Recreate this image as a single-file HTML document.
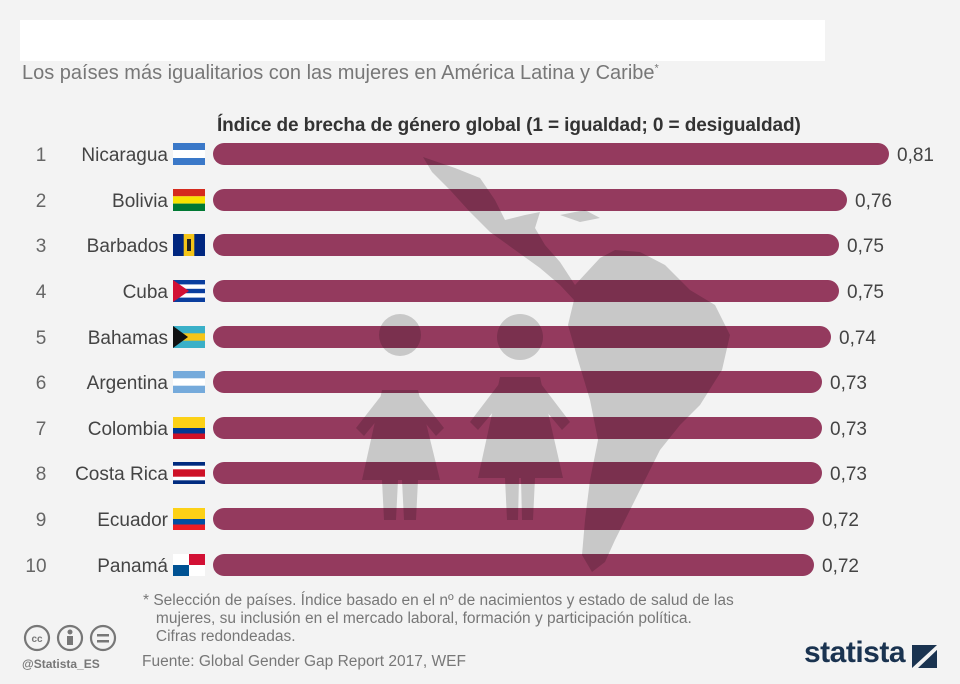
<!DOCTYPE html>
<html><head><meta charset="utf-8"><style>
body{margin:0;width:960px;height:684px;background:#f3f3f3;font-family:"Liberation Sans",sans-serif;position:relative;overflow:hidden}
.abs{position:absolute}
</style></head><body>
<div class="abs" style="left:20px;top:20px;width:805px;height:41px;background:#fff"></div>
<div class="abs" style="left:22px;top:62px;font-size:20px;color:#777;white-space:nowrap">Los países más igualitarios con las mujeres en América Latina y Caribe<sup style="font-size:11px">*</sup></div>
<div class="abs" style="left:217px;top:115px;font-size:19px;font-weight:bold;color:#333;white-space:nowrap;letter-spacing:-0.1px">Índice de brecha de género global (1 = igualdad; 0 = desigualdad)</div>
<svg class="abs" style="left:0;top:0" width="960" height="684">
<g id="bars" fill="#943a5e">
<rect x="213" y="143" width="676" height="22" rx="11"/>
<rect x="213" y="189" width="634" height="22" rx="11"/>
<rect x="213" y="234" width="626" height="22" rx="11"/>
<rect x="213" y="280" width="626" height="22" rx="11"/>
<rect x="213" y="326" width="618" height="22" rx="11"/>
<rect x="213" y="371" width="609" height="22" rx="11"/>
<rect x="213" y="417" width="609" height="22" rx="11"/>
<rect x="213" y="462" width="609" height="22" rx="11"/>
<rect x="213" y="508" width="601" height="22" rx="11"/>
<rect x="213" y="554" width="601" height="22" rx="11"/>
</g>
<g fill="#d2d2d2" style="mix-blend-mode:multiply">
<path d="M423,157 L455,168 L480,178 L495,200 L505,220 L525,215 L540,212 L535,228 L545,245 L560,262 L575,285 L600,258 L615,250 L640,252 L665,265 L690,290 L715,305 L730,335 L722,370 L700,405 L680,425 L660,450 L645,480 L630,510 L615,540 L605,562 L592,572 L582,555 L585,520 L590,480 L598,440 L590,400 L578,360 L568,325 L574,300 L560,285 L540,268 L515,250 L490,232 L470,212 L450,190 L432,172 Z"/>
<path d="M560,215 L585,210 L600,218 L580,222 Z"/>
<circle cx="400" cy="335" r="21"/>
<path d="M382,390 L418,390 L440,480 L418,480 L416,520 L404,520 L402,480 L398,480 L396,520 L384,520 L382,480 L362,480 Z"/>
<path d="M384,392 L356,428 L364,436 L392,402 Z M416,392 L444,428 L436,436 L408,402 Z"/>
<circle cx="520" cy="337" r="23"/>
<path d="M500,377 L540,377 L563,478 L535,478 L533,520 L522,520 L521,478 L519,478 L518,520 L507,520 L505,478 L478,478 Z"/>
<path d="M502,380 L470,422 L478,430 L510,392 Z M538,380 L570,422 L562,430 L530,392 Z"/>
</g>
<!-- flags -->
<g>
<rect x="173" y="143" width="32" height="22" fill="#fff"/><rect x="173" y="143" width="32" height="7" fill="#3a78c8"/><rect x="173" y="158" width="32" height="7" fill="#3a78c8"/>
<rect x="173" y="189" width="32" height="7.3" fill="#d52b1e"/><rect x="173" y="196.3" width="32" height="7.3" fill="#f9e300"/><rect x="173" y="203.6" width="32" height="7.4" fill="#007934"/>
<rect x="173" y="234" width="32" height="22" fill="#f5c518"/><rect x="173" y="234" width="10.7" height="22" fill="#00267f"/><rect x="194.3" y="234" width="10.7" height="22" fill="#00267f"/><rect x="187" y="239" width="4" height="12" fill="#222"/>
<rect x="173" y="280" width="32" height="22" fill="#fff"/><rect x="173" y="280" width="32" height="4.4" fill="#0a3e9e"/><rect x="173" y="288.8" width="32" height="4.4" fill="#0a3e9e"/><rect x="173" y="297.6" width="32" height="4.4" fill="#0a3e9e"/><path d="M173,280 L189,291 L173,302Z" fill="#d21034"/>
<rect x="173" y="326" width="32" height="22" fill="#f5c518"/><rect x="173" y="326" width="32" height="7.3" fill="#3ab0c8"/><rect x="173" y="340.7" width="32" height="7.3" fill="#3ab0c8"/><path d="M173,326 L188,337 L173,348Z" fill="#111"/>
<rect x="173" y="371" width="32" height="22" fill="#fff"/><rect x="173" y="371" width="32" height="7.3" fill="#75aadb"/><rect x="173" y="385.7" width="32" height="7.3" fill="#75aadb"/>
<rect x="173" y="417" width="32" height="11" fill="#fcd116"/><rect x="173" y="428" width="32" height="5.5" fill="#003893"/><rect x="173" y="433.5" width="32" height="5.5" fill="#ce1126"/>
<rect x="173" y="462" width="32" height="22" fill="#fff"/><rect x="173" y="462" width="32" height="3.7" fill="#002b7f"/><rect x="173" y="480.3" width="32" height="3.7" fill="#002b7f"/><rect x="173" y="469.3" width="32" height="7.4" fill="#ce1126"/>
<rect x="173" y="508" width="32" height="11" fill="#fcd116"/><rect x="173" y="519" width="32" height="5.5" fill="#034ea2"/><rect x="173" y="524.5" width="32" height="5.5" fill="#ed1c24"/>
<rect x="173" y="554" width="32" height="22" fill="#fff"/><rect x="189" y="554" width="16" height="11" fill="#d21034"/><rect x="173" y="565" width="16" height="11" fill="#005293"/>
</g>
<g font-family="Liberation Sans, sans-serif" font-size="19" fill="#444">
<g text-anchor="middle" fill="#666"><text x="41" y="161">1</text><text x="41" y="207">2</text><text x="41" y="252">3</text><text x="41" y="298">4</text><text x="41" y="344">5</text><text x="41" y="389">6</text><text x="41" y="435">7</text><text x="41" y="480">8</text><text x="41" y="526">9</text><text x="36" y="572">10</text></g>
<g text-anchor="end"><text x="168" y="161">Nicaragua</text><text x="168" y="207">Bolivia</text><text x="168" y="252">Barbados</text><text x="168" y="298">Cuba</text><text x="168" y="344">Bahamas</text><text x="168" y="389">Argentina</text><text x="168" y="435">Colombia</text><text x="168" y="480">Costa Rica</text><text x="168" y="526">Ecuador</text><text x="168" y="572">Panamá</text></g>
<text x="897" y="161">0,81</text><text x="855" y="207">0,76</text><text x="847" y="252">0,75</text><text x="847" y="298">0,75</text><text x="839" y="344">0,74</text><text x="830" y="389">0,73</text><text x="830" y="435">0,73</text><text x="830" y="480">0,73</text><text x="822" y="526">0,72</text><text x="822" y="572">0,72</text>
</g>
<g fill="none" stroke="#777" stroke-width="2.2"><circle cx="37" cy="638" r="12"/><circle cx="70" cy="638" r="12"/><circle cx="103" cy="638" r="12"/></g>
<text x="37" y="642" font-size="10" font-weight="bold" fill="#777" text-anchor="middle" font-family="Liberation Sans">cc</text>
<circle cx="70" cy="632" r="2.5" fill="#777"/><rect x="67" y="636" width="6" height="9" fill="#777"/>
<rect x="97" y="634" width="12" height="2.5" fill="#777"/><rect x="97" y="640" width="12" height="2.5" fill="#777"/>
<path d="M912,645 L937,645 L937,650 L920,668 L937,668 L937,645 Z" fill="#1a3350"/>
<path d="M912,645 L937,645 L912,668 Z" fill="#1a3350"/><path d="M918,668 L937,650 L937,668 Z" fill="#1a3350"/>
</svg>
<div class="abs" style="left:143px;top:592px;font-size:15.5px;color:#777;line-height:18px;white-space:nowrap">* Selección de países. Índice basado en el nº de nacimientos y estado de salud de las<br>&nbsp;&nbsp;&nbsp;mujeres, su inclusión en el mercado laboral, formación y participación política.<br>&nbsp;&nbsp;&nbsp;Cifras redondeadas.</div>
<div class="abs" style="left:142px;top:653px;font-size:15.5px;color:#777;white-space:nowrap">Fuente: Global Gender Gap Report 2017, WEF</div>
<div class="abs" style="left:22px;top:657px;font-size:12px;color:#777;font-weight:bold">@Statista_ES</div>
<div class="abs" style="left:804px;top:636px;font-size:30px;font-weight:bold;color:#1a3350;letter-spacing:-0.5px">statista</div>
</body></html>
